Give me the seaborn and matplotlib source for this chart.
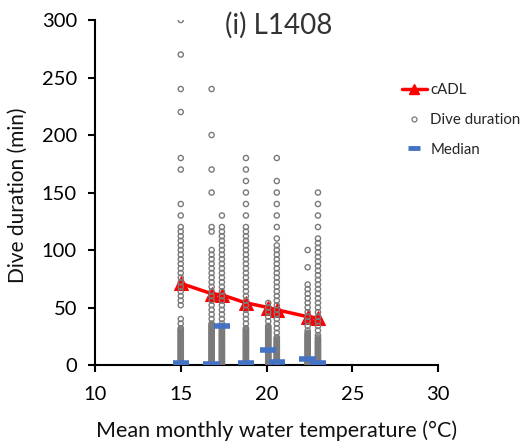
import matplotlib
matplotlib.use("Agg")
import matplotlib.pyplot as plt
from matplotlib.lines import Line2D
import seaborn as sns
import pandas as pd

# ---- data ----
TEMPS = [15.0, 16.8, 17.4, 18.8, 20.1, 20.6, 22.4, 23.0]
CADL = [71, 62, 61, 54, 50, 48, 42, 41]
MEDIAN = [2, 1, 34, 1.5, 13, 2.5, 5, 1.5]

DIVES_15_0 = [300, 270, 240, 220, 180, 170, 140, 130, 120, 116, 112, 108, 104, 100,
              96, 92, 88, 84, 80, 76, 72, 68, 64, 60, 56, 52, 40, 36]
DIVES_16_8 = [240, 200, 170, 150, 120, 116, 100, 96, 92, 88, 84, 80, 76, 72, 68, 64,
              60, 56, 52, 48, 44, 40]
DIVES_17_4 = [130, 120, 116, 112, 108, 104, 100, 96, 92, 88, 84, 80, 76, 72, 68, 64,
              60, 56, 52, 48, 44, 40, 36]
DIVES_18_8 = [180, 170, 160, 150, 140, 130, 120, 116, 112, 108, 104, 100, 96, 92, 88,
              84, 80, 76, 72, 68, 64, 60, 56, 52, 48, 44, 40, 36]
DIVES_20_1 = [54, 50, 46, 42, 38]
DIVES_20_6 = [180, 160, 150, 140, 130, 120, 110, 104, 100, 96, 92, 88, 84, 80, 76, 72,
              68, 64, 60, 56, 52, 48, 44, 40, 36, 32, 28]
DIVES_22_4 = [100, 85, 70, 66, 62, 58, 54, 50, 46, 42, 38, 34, 30]
DIVES_23_0 = [150, 140, 130, 120, 110, 106, 102, 98, 94, 90, 86, 82, 78, 74, 70, 66,
              62, 58, 54, 50, 46, 42, 38, 34, 30, 26]
# short, very frequent dives (solid part of each column)
SHORT_DIVES = [0, 1, 2, 3, 4, 5, 6, 7, 8, 9, 10, 11, 12, 13, 14, 15, 16, 17, 18, 19,
               20, 21, 22, 23, 24, 25, 26, 27, 28, 29, 30, 31, 32, 33, 34, 35, 36]
SHORT_TOP = [32, 36, 34, 32, 34, 24, 28, 24]

XTICKS = [10, 15, 20, 25, 30]
YTICKS = [0, 50, 100, 150, 200, 250, 300]

columns = [DIVES_15_0, DIVES_16_8, DIVES_17_4, DIVES_18_8,
           DIVES_20_1, DIVES_20_6, DIVES_22_4, DIVES_23_0]
rows = []
for t, col, top in zip(TEMPS, columns, SHORT_TOP):
    for d in col:
        rows.append((t, d))
    for d in SHORT_DIVES:
        if d <= top:
            rows.append((t, d))
dives = pd.DataFrame(rows, columns=["temp", "duration"])
cadl = pd.DataFrame({"temp": TEMPS, "cadl": CADL})

# ---- figure ----
sns.set_theme(style="ticks")
plt.rcParams["font.family"] = ["Lato", "DejaVu Sans"]

fig = plt.figure(figsize=(5.29, 4.46), dpi=100)
ax = fig.add_axes([0.1796, 0.1816, 0.6484, 0.7735])

GRAY = "#7a7a7a"
RED = "#ff0000"
BLUE = "#4472c4"

sns.lineplot(data=cadl, x="temp", y="cadl", color=RED, linewidth=2.5,
             marker="^", markersize=10.5, markeredgecolor=RED, ax=ax,
             zorder=2, legend=False)
sns.scatterplot(data=dives, x="temp", y="duration", marker="o", s=14,
                facecolors="none", edgecolor=GRAY, linewidth=1.0, ax=ax,
                zorder=3, legend=False)
ax.hlines(MEDIAN, [t - 0.48 for t in TEMPS], [t + 0.48 for t in TEMPS],
          colors=BLUE, linewidth=4, zorder=4)

ax.set_xlim(10, 30)
ax.set_ylim(0, 300)
ax.set_xticks(XTICKS)
ax.set_yticks(YTICKS)
ax.tick_params(direction="out", length=5, width=1.5, colors="black",
               labelsize=14.5)
ax.tick_params(axis="x", pad=10)
ax.tick_params(axis="y", pad=8)
for s in ["top", "right"]:
    ax.spines[s].set_visible(False)
for s in ["left", "bottom"]:
    ax.spines[s].set_linewidth(1.5)
    ax.spines[s].set_color("black")

ax.set_xlabel("Mean monthly water temperature (°C)", fontsize=15.5, color="#111111")
ax.set_ylabel("Dive duration (min)", fontsize=15, color="#111111")
ax.xaxis.set_label_coords(0.53, -0.16)
ax.yaxis.set_label_coords(-0.195, 0.493)

ax.text(0.536, 0.985, "(i) L1408", transform=ax.transAxes, ha="center",
        va="center", fontsize=20, fontweight="normal", color="#333333")

handles = [
    Line2D([], [], color=RED, linewidth=2.5, marker="^", markersize=7),
    Line2D([], [], linestyle="none", marker="o", markersize=3.6,
           markerfacecolor="none", markeredgecolor=GRAY, markeredgewidth=0.9),
    Line2D([], [], linestyle="none", marker="_", markersize=8,
           markeredgewidth=3.5, color=BLUE),
]
fig.legend(handles, ["cADL", "Dive duration", "Median"], loc="upper left",
           bbox_to_anchor=(0.748, 0.827), frameon=False, fontsize=10.8,
           handlelength=1.7, handletextpad=0.2, labelspacing=1.05,
           borderaxespad=0)

fig.savefig("out.png", dpi=100)
